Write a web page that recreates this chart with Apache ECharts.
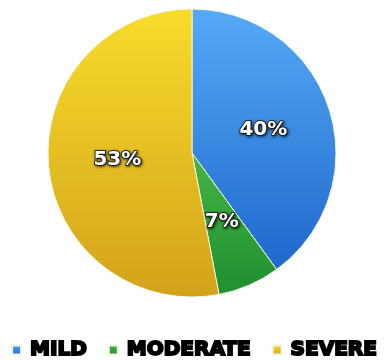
<!DOCTYPE html>
<html>
<head>
<meta charset="utf-8">
<script src="https://cdn.jsdelivr.net/npm/echarts@6/dist/echarts.min.js"></script>
<style>
  html, body { margin: 0; padding: 0; background: #fff; }
  #chart { width: 389px; height: 360px; }
</style>
</head>
<body>
<div id="chart"></div>
<script>
// severity shares
var categories = ['MILD', 'MODERATE', 'SEVERE'];
var shares = [40, 7, 53];

var topColors = ['#55aaf6', '#45b545', '#f8dc2c'];
var bottomColors = ['#1e68cc', '#1f8f30', '#d3a21a'];

var pieData = categories.map(function (name, i) {
  return {
    name: name,
    value: shares[i],
    itemStyle: {
      color: new echarts.graphic.LinearGradient(0, 0, 0, 1, [
        { offset: 0, color: topColors[i] },
        { offset: 1, color: bottomColors[i] }
      ])
    }
  };
});

var myChart = echarts.init(document.getElementById('chart'));
myChart.setOption({
  animation: false,
  color: ['#3d8fe6', '#33a23a', '#e8c020'],
  legend: {
    top: 339,
    left: 'center',
    padding: 0,
    icon: 'rect',
    itemWidth: 9,
    itemHeight: 9,
    itemGap: 20,
    textStyle: {
      fontFamily: 'DejaVu Sans',
      fontWeight: 'bold',
      fontSize: 20,
      color: '#000',
      textBorderColor: '#000',
      textBorderWidth: 2,
      padding: [0, 0, 0, 4]
    },
    data: categories
  },
  series: [{
    type: 'pie',
    center: [192, 153],
    radius: 144,
    startAngle: 90,
    clockwise: true,
    itemStyle: { borderColor: '#f4f4e0', borderWidth: 1 },
    label: {
      position: 'inside',
      formatter: '{c}%',
      fontFamily: 'DejaVu Sans',
      fontWeight: 'bold',
      fontSize: 20,
      color: '#fff',
      textBorderColor: '#2a2a2a',
      textBorderWidth: 2,
      textShadowColor: 'rgba(0,0,0,0.6)',
      textShadowBlur: 3,
      textShadowOffsetX: 1,
      textShadowOffsetY: 1
    },
    labelLine: { show: false },
    data: pieData
  }]
});
</script>
</body>
</html>
